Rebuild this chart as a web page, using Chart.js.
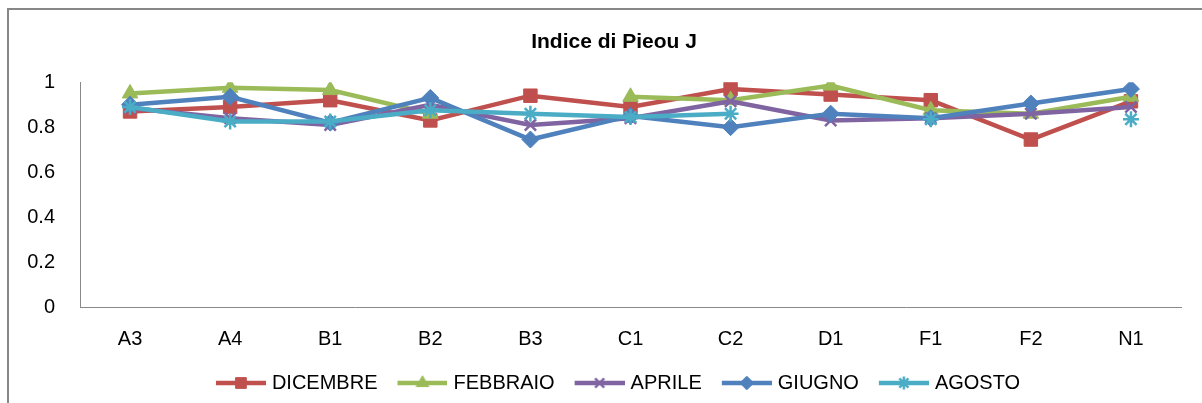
<!DOCTYPE html>
<html lang="it">
<head>
    <meta charset="UTF-8">
    <title>Indice di Pieou J</title>
    <script src="https://cdn.jsdelivr.net/npm/chart.js@4.4.0/dist/chart.umd.min.js"></script>
    <style>
        html, body {
            margin: 0;
            padding: 0;
            background: #fff;
            overflow: hidden;
        }
        .cornice {
            position: absolute;
            left: 7px;
            top: 8px;
            width: 1400px;
            height: 600px;
            border: 2px solid #878787;
        }
        .grafico {
            position: absolute;
            left: 0;
            top: 0;
            width: 1202px;
            height: 403px;
        }
    </style>
</head>
<body>
    <div class="cornice"></div>
    <div class="grafico">
        <canvas id="grafica" width="1202" height="403"></canvas>
    </div>

    <script>
        // Stazioni di campionamento
        const stazioni = ["A3", "A4", "B1", "B2", "B3", "C1", "C2", "D1", "F1", "F2", "N1"];

        // Indice di Pieou J per mese (null = dato mancante)
        const dicembre = [0.87, 0.89, 0.92, 0.83, 0.94, 0.89, 0.97, 0.945, 0.92, 0.745, 0.915];
        const febbraio = [0.95, 0.975, 0.965, 0.86, null, 0.935, 0.92, 0.985, 0.875, 0.86, 0.935];
        const aprile   = [0.885, 0.84, 0.81, 0.90, 0.81, 0.84, 0.915, 0.83, 0.84, 0.86, 0.89];
        const giugno   = [0.90, 0.935, 0.82, 0.93, 0.745, 0.85, 0.80, 0.86, 0.84, 0.905, 0.97];
        const agosto   = [0.89, 0.825, 0.825, 0.875, 0.86, 0.845, 0.86, null, 0.835, null, 0.835];

        const ticksY = [0, 0.2, 0.4, 0.6, 0.8, 1];

        const serie = [
            { label: "DICEMBRE", data: dicembre, colore: "#C0504D", punto: "rect", raggio: 9.5, bordo: 1 },
            { label: "FEBBRAIO", data: febbraio, colore: "#9BBB59", punto: "triangle", raggio: 9, bordo: 1 },
            { label: "APRILE", data: aprile, colore: "#8064A2", punto: "crossRot", raggio: 8, bordo: 2.5 },
            { label: "GIUGNO", data: giugno, colore: "#4F81BD", punto: "rectRot", raggio: 8.5, bordo: 1 },
            { label: "AGOSTO", data: agosto, colore: "#4BACC6", punto: "star", raggio: 8, bordo: 2.5 }
        ];

        const font = "'Liberation Sans', Arial, sans-serif";

        // la legenda usa un box di 54px; l'immagine (62px, centrata) sporge di 4px
        // a destra così la linea arriva quasi al testo
        const boxLegenda = 54;

        // piccola immagine linea + marcatore per la legenda
        function campione(s) {
            const c = document.createElement("canvas");
            c.width = boxLegenda + 8;
            c.height = 18;
            const ctx = c.getContext("2d");
            ctx.strokeStyle = s.colore;
            ctx.lineWidth = 4.5;
            ctx.beginPath();
            ctx.moveTo(12, 9);
            ctx.lineTo(62, 9);
            ctx.stroke();
            ctx.fillStyle = s.colore;
            ctx.lineWidth = s.bordo;
            Chart.helpers.drawPoint(ctx, {
                pointStyle: s.punto,
                radius: s.raggio * 0.8,
                rotation: 0,
                borderWidth: s.bordo
            }, 37, 9);
            return c;
        }

        const ctx = document.querySelector("#grafica").getContext("2d");
        new Chart(ctx, {
            type: "line",
            data: {
                labels: stazioni,
                datasets: serie.map((s, i) => ({
                    label: s.label,
                    data: s.data,
                    borderColor: s.colore,
                    backgroundColor: s.colore,
                    borderWidth: 4.5,
                    pointStyle: s.punto,
                    pointRadius: s.raggio,
                    pointBorderWidth: s.bordo,
                    pointBackgroundColor: s.colore,
                    pointBorderColor: s.colore,
                    tension: 0,
                    spanGaps: false,
                    order: serie.length - i
                }))
            },
            options: {
                responsive: false,
                animation: false,
                layout: {
                    padding: { left: 26, right: 0, top: 0, bottom: 0 }
                },
                plugins: {
                    title: {
                        display: true,
                        text: "Indice di Pieou J",
                        color: "#000",
                        font: { family: font, size: 21, weight: "bold" },
                        padding: { top: 30, bottom: 27 }
                    },
                    legend: {
                        position: "bottom",
                        labels: {
                            color: "#000",
                            font: { family: font, size: 20 },
                            usePointStyle: true,
                            pointStyleWidth: boxLegenda,
                            padding: 12,
                            generateLabels: (chart) => serie.map((s, i) => ({
                                text: s.label,
                                pointStyle: campione(s),
                                fillStyle: s.colore,
                                strokeStyle: s.colore,
                                lineWidth: 0,
                                fontColor: "#000",
                                hidden: false,
                                datasetIndex: i
                            }))
                        }
                    },
                    tooltip: { enabled: false }
                },
                scales: {
                    x: {
                        offset: true,
                        grid: { display: false, drawTicks: false },
                        border: { display: true, color: "#898989", width: 1 },
                        ticks: {
                            color: "#000",
                            font: { family: font, size: 20 },
                            padding: 20
                        },
                        afterFit: (scale) => { scale.height = 54; }
                    },
                    y: {
                        min: 0,
                        max: 1,
                        grid: { display: false, drawTicks: false },
                        border: { display: true, color: "#898989", width: 1 },
                        afterBuildTicks: (scale) => {
                            scale.ticks = ticksY.map(v => ({ value: v }));
                        },
                        ticks: {
                            color: "#000",
                            font: { family: font, size: 20 },
                            padding: 25,
                            callback: (v) => String(v)
                        },
                        afterFit: (scale) => { scale.width = 54; }
                    },
                    margine: {
                        position: "right",
                        display: true,
                        grid: { display: false, drawTicks: false },
                        border: { display: false },
                        ticks: { display: false },
                        afterFit: (scale) => { scale.width = 21; }
                    }
                }
            }
        });
    </script>
</body>
</html>
